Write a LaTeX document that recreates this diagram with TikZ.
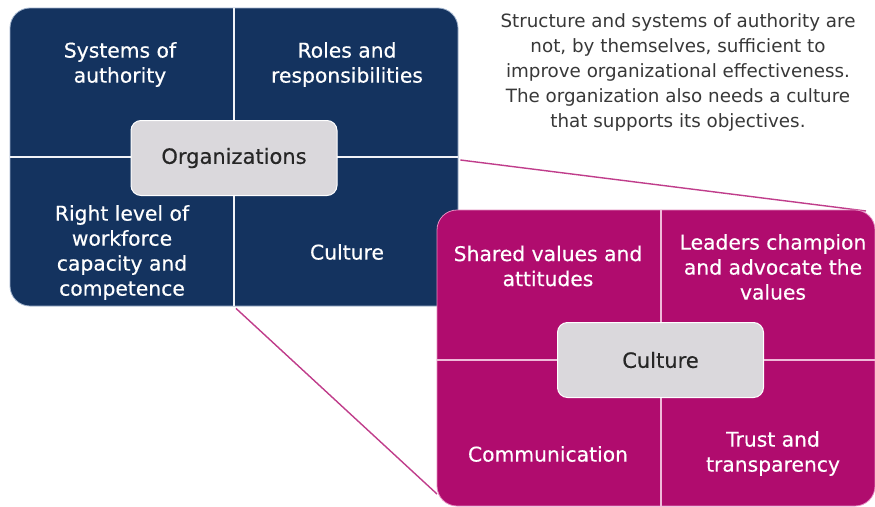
\documentclass[tikz,border=0pt]{standalone}
\usepackage{fontspec}
\setmainfont{DejaVu Sans}[BoldFont=DejaVu Sans, BoldFeatures={FakeBold=0.4}]
\definecolor{navy}{HTML}{14335F}
\definecolor{navyedge}{HTML}{9FB2CC}
\definecolor{mag}{HTML}{B00C6E}
\definecolor{magedge}{HTML}{E58CC0}
\definecolor{hubgray}{HTML}{DAD8DC}
\definecolor{notegray}{HTML}{383838}
\begin{document}
\begin{tikzpicture}[x=1pt,y=-1pt,
  bigbox/.style={rounded corners=20pt, minimum width=#1, inner sep=0pt, line width=0.8pt},
  hub/.style={fill=hubgray, draw=white, line width=1pt, rounded corners=10pt, minimum width=206pt, minimum height=75pt, inner sep=0pt, font=\fontsize{21}{25}\selectfont\bfseries, text=black!85},
  quad/.style={align=center, text=white, font=\fontsize{20.3}{25}\selectfont\bfseries},
  divider/.style={draw=white!85!navyedge, line width=1.4pt},
  link/.style={draw=mag!80!white, line width=1.4pt},
  note/.style={align=center, text=notegray, font=\fontsize{18.3}{24.8}\selectfont}]
\useasboundingbox (0,0) rectangle (875,506);
\fill[white] (0,0) rectangle (875,506);
% Organizations panel
\node[bigbox=448pt, minimum height=298pt, fill=navy, draw=navyedge] (blue) at (234,157) {};
\draw[divider] (blue.north) -- (blue.south);
\draw[divider] (blue.west) -- (blue.east);
\node[hub] (org) at (234,158) {Organizations};
\node[quad] (q1) at (120,64.5) {Systems of\\authority};
\node[quad] (q2) at (347,64.5) {Roles and\\responsibilities};
\node[quad] (q3) at (122,252.5) {Right level of\\workforce\\capacity and\\competence};
\node[quad] (q4) at (347,252) {Culture};
% zoom lines
\coordinate (z1) at (866,211);
\coordinate (z2) at (437,494);
\draw[link] (blue.east) ++(2,3) -- (z1);
\draw[link] (blue.south) ++(2,2) -- (z2);
% Culture panel
\node[bigbox=438pt, minimum height=296pt, fill=mag, draw=magedge] (magbox) at (656,358) {};
\coordinate (cx) at (661,360);
\draw[divider, draw=magedge!60!white] (cx |- magbox.north) -- (cx |- magbox.south);
\draw[divider, draw=magedge!60!white] (cx -| magbox.west) -- (cx -| magbox.east);
\node[hub] (cul) at (660.5,360) {Culture};
\node[quad] (c1) at (548,266) {Shared values and\\attitudes};
\node[quad] (c2) at (773,267) {Leaders champion\\and advocate the\\values};
\node[quad] (c3) at (548,454) {Communication};
\node[quad] (c4) at (773,453.5) {Trust and\\transparency};
% note
\node[note] (txt) at (678,72.5) {Structure and systems of authority are\\not, by themselves, sufficient to\\improve organizational effectiveness.\\The organization also needs a culture\\that supports its objectives.};
\end{tikzpicture}
\end{document}
